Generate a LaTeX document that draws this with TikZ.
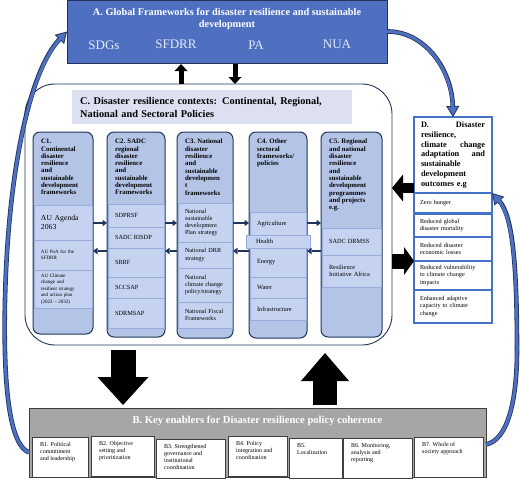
\documentclass[tikz,border=0pt]{standalone}
\usepackage{fontspec}
\setmainfont{Liberation Serif}
\usetikzlibrary{arrows.meta}
\definecolor{blueA}{RGB}{79,112,192}
\definecolor{navy}{RGB}{32,52,92}
\definecolor{colfill}{RGB}{180,196,230}
\definecolor{subfill}{RGB}{197,211,240}
\definecolor{subline}{RGB}{150,172,218}
\definecolor{ctitle}{RGB}{220,224,240}
\definecolor{greyB}{RGB}{166,166,166}
\definecolor{dblue}{RGB}{68,114,196}
\definecolor{lighttxt}{RGB}{228,234,250}
\newcommand{\fsz}[2]{\fontsize{#1}{#2}\selectfont}
\tikzset{
  subbox/.style={draw=subline, fill=subfill, line width=0.5pt, anchor=north west, inner xsep=7pt, inner ysep=0pt, outer sep=0pt, align=left},
  colbox/.style={draw=navy, line width=1pt, fill=colfill, rounded corners=7pt, anchor=north west, inner sep=0pt, outer sep=0pt},
  hdr/.style={anchor=north west, align=left, font=\bfseries\fsz{6.8}{7.3}, inner xsep=8pt, inner ysep=7pt},
  dbx/.style={draw=dblue, line width=1.5pt, fill=white, anchor=north west, inner xsep=6pt, inner ysep=0pt, outer sep=0pt, align=left},
  bsub/.style={draw=black!75, line width=0.8pt, fill=white, anchor=north west, inner sep=0pt, outer sep=0pt},
  btxt/.style={anchor=north west, align=left, font=\fsz{6}{7}, inner xsep=8pt, inner ysep=5pt},
  smallarr/.style={draw=navy, line width=1.8pt, -{Triangle[length=4.5pt,width=6.5pt,line width=0pt]}},
  blockarr/.style={draw=black},
  curvy/.style={draw=blueA, line width=3pt, shorten >=9pt,
    preaction={draw=navy, line width=4.6pt, shorten >=0pt, -{Triangle[length=11pt,width=13pt,fill=blueA,line width=0.8pt]}}}
}
\newcommand{\mysub}[7]{%
  \pgfmathsetmacro{\mytw}{#4-14}%
  \node[subbox, minimum width=#4pt, minimum height=#5pt, text width=\mytw pt, font=#6] (#1) at (#2,#3) {#7};}
\newcommand{\mydsub}[5]{%
  \node[dbx, minimum width=78pt, minimum height=#3pt, text width=66pt, font=\fsz{6.2}{7.4}] (#1) at (414,#2) {#5};}
\begin{document}
\begin{tikzpicture}[x=1pt,y=-1pt]
\useasboundingbox (0,0) rectangle (520,479);
% helper coordinates
\coordinate (xdn) at (123,0);
\coordinate (xup) at (325,0);
\coordinate (xa1) at (181,0);
\coordinate (xa2) at (235,0);
\coordinate (yR) at (0,223);
\coordinate (yL) at (0,251);
\coordinate (ydl) at (0,188);
\coordinate (ydr) at (0,261);

% A box
\node[draw=navy, fill=blueA, line width=1pt, anchor=north west, minimum width=320pt, minimum height=63pt, inner sep=0pt, outer sep=0pt] (abox) at (67,0) {};
\node[align=center, text=white, font=\bfseries\fsz{10.3}{12}] (atitle) at ([yshift=-19pt]abox.north) {A. Global Frameworks for disaster resilience and sustainable\\development};
\node[text=lighttxt, font=\fsz{13}{15}] (sdg) at (104,45) {SDGs};
\node[text=lighttxt, font=\fsz{13}{15}] (sfd) at (176,44) {SFDRR};
\node[text=lighttxt, font=\fsz{13}{15}] (pa) at (256,45) {PA};
\node[text=lighttxt, font=\fsz{13}{15}] (nua) at (337,44) {NUA};

% C big box
\node[draw=navy, line width=0.9pt, fill=white, rounded corners=30pt, anchor=north west, minimum width=367pt, minimum height=261pt, inner sep=0pt, outer sep=0pt] (cbox) at (25,84) {};
\node[fill=ctitle, anchor=north west, minimum height=34pt, text width=264pt, inner xsep=8pt, inner ysep=0pt, align=left, font=\bfseries\fsz{10.3}{13}] (ctitle) at (72,90) {C. Disaster resilience contexts: Continental, Regional,\\National and Sectoral Policies};

% columns
\node[colbox, minimum width=60pt, minimum height=202pt] (c1) at (33,132) {};
\node[colbox, minimum width=58pt, minimum height=205pt] (c2) at (107,132) {};
\node[colbox, minimum width=56pt, minimum height=206pt] (c3) at (177,132) {};
\node[colbox, minimum width=58pt, minimum height=206pt] (c4) at (249,132) {};
\node[colbox, minimum width=61pt, minimum height=205pt] (c5) at (321,132) {};

\node[hdr] (h1) at (c1.north west) {C1.\\Continental\\disaster\\resilience\\and\\sustainable\\development\\frameworks};
\node[hdr] (h2) at (c2.north west) {C2. SADC\\regional\\disaster\\resilience\\and\\sustainable\\development\\Frameworks};
\node[hdr] (h3) at (c3.north west) {C3. National\\disaster\\resilience\\and\\sustainable\\developmen\\t\\frameworks};
\node[hdr] (h4) at (c4.north west) {C4. Other\\sectoral\\frameworks/\\policies};
\node[hdr] (h5) at (c5.north west) {C5. Regional\\and national\\disaster\\resilience\\and\\sustainable\\development\\programmes\\and projects\\e.g.};

% C1 items
\mysub{c1a}{34}{205}{58}{35}{\fsz{7.7}{8.6}}{AU Agenda\\2063}
\mysub{c1b}{34}{240}{58}{30}{\fsz{5}{6.5}}{AU PoA for the\\SFDRR}
\mysub{c1c}{34}{270}{58}{38}{\fsz{5}{6.5}}{AU Climate\\change and\\resilient strategy\\and action plan\\(2022 -- 2032)}
% C2 items
\mysub{c2a}{108}{204}{56}{23}{\fsz{6.3}{7.4}}{SDPRSF}
\mysub{c2b}{108}{227}{56}{21}{\fsz{6.3}{7.4}}{SADC RISDP}
\mysub{c2c}{108}{248}{56}{29}{\fsz{6.3}{7.4}}{SRRF}
\mysub{c2d}{108}{277}{56}{21}{\fsz{6.3}{7.4}}{SCCSAP}
\mysub{c2e}{108}{298}{56}{30}{\fsz{6.3}{7.4}}{SDRMSAP}
% C3 items
\mysub{c3a}{178}{203}{54}{39}{\fsz{6.2}{7.3}}{National\\sustainable\\development\\Plan strategy}
\mysub{c3b}{178}{242}{54}{26}{\fsz{6.2}{7.3}}{National DRR\\strategy}
\mysub{c3c}{178}{268}{54}{34}{\fsz{6.2}{7.3}}{National\\climate change\\policy/strategy}
\mysub{c3d}{178}{302}{54}{26}{\fsz{6.2}{7.3}}{National Fiscal\\Frameworks}
% C4 items
\mysub{c4a}{250}{212}{56}{23}{\fsz{6.4}{7.4}}{Agriculture}
\mysub{c4b}{246}{235}{64}{13}{\fsz{6.4}{7.4}}{\hspace*{3pt}Health}
\mysub{c4c}{250}{248}{56}{29}{\fsz{6.4}{7.4}}{Energy}
\mysub{c4d}{250}{277}{56}{21}{\fsz{6.4}{7.4}}{Water}
\mysub{c4e}{250}{298}{56}{22}{\fsz{6.4}{7.4}}{Infrastructure}
% C5 items
\mysub{c5a}{322}{228}{59}{27}{\fsz{6.3}{7.4}}{SADC DRMSS}
\mysub{c5b}{322}{255}{59}{32}{\fsz{6.3}{7.4}}{Resilience\\Initiative Africa}

% arrows between columns
\draw[smallarr] (c1.east |- yR) -- (c2.west |- yR);
\draw[smallarr] (c2.west |- yL) -- (c1.east |- yL);
\draw[smallarr] (c2.east |- yR) -- (c3.west |- yR);
\draw[smallarr] (c3.west |- yL) -- (c2.east |- yL);
\draw[smallarr] (c3.east |- yR) -- (c4.west |- yR);
\draw[smallarr] (c4.west |- yL) -- (c3.east |- yL);
\draw[smallarr] (c4.east |- yR) -- (c5.west |- yR);
\draw[smallarr] (c5.west |- yL) -- (c4.east |- yL);

% D box
\node[dbx, minimum width=78pt, minimum height=76pt, text width=64pt, inner xsep=7pt, font=\bfseries\fsz{8.3}{9.7}] (dhead) at (414,117) {D.\hfill Disaster\\resilience,\\climate\hfill change\\adaptation\hfill and\\sustainable\\development\\outcomes e.g};
\mydsub{d1}{193}{20}{}{Zero hunger}
\mydsub{d2}{214}{23}{}{Reduced global\\disaster mortality}
\mydsub{d3}{237}{24}{}{Reduced disaster\\economic losses}
\mydsub{d4}{261}{29}{}{Reduced vulnerability\\to climate change\\impacts}
\mydsub{d5}{290}{33}{}{Enhanced adaptive\\capacity to climate\\change}

% B box
\node[draw=black!75, fill=greyB, line width=1pt, anchor=north west, minimum width=457pt, minimum height=69pt, inner sep=0pt, outer sep=0pt] (bbox) at (29,408) {};
\node[text=white, font=\bfseries\fsz{10.6}{12}] (btitle) at ([yshift=-13pt]bbox.north) {B. Key enablers for Disaster resilience policy coherence};
\node[bsub, minimum width=56pt, minimum height=40pt] (b1) at (32,437) {};
\node[bsub, minimum width=63pt, minimum height=40pt] (b2) at (91,436) {};
\node[bsub, minimum width=69pt, minimum height=39pt] (b3) at (156,439) {};
\node[bsub, minimum width=59pt, minimum height=40pt] (b4) at (228,436) {};
\node[bsub, minimum width=53pt, minimum height=40pt] (b5) at (289,438) {};
\node[bsub, minimum width=69pt, minimum height=40pt] (b6) at (343,438) {};
\node[bsub, minimum width=69pt, minimum height=40pt] (b7) at (414,437) {};
\node[btxt] (tb1) at (b1.north west) {B1. Political\\commitment\\and leadership};
\node[btxt] (tb2) at (b2.north west) {B2. Objective\\setting and\\prioritization};
\node[btxt] (tb3) at (b3.north west) {B3. Strengthened\\governance and\\institutional\\coordination};
\node[btxt] (tb4) at (b4.north west) {B4. Policy\\integration and\\coordination};
\node[btxt] (tb5) at (b5.north west) {B5.\\Localization};
\node[btxt] (tb6) at (b6.north west) {B6. Monitoring,\\analysis and\\reporting};
\node[btxt] (tb7) at (b7.north west) {B7. Whole of\\society approach};

% A <-> C small arrows
\draw[blockarr, line width=5pt, -{Triangle[length=7pt,width=13pt,line width=0pt]}, shorten >=1pt] (cbox.north -| xa1) -- (abox.south -| xa1);
\draw[blockarr, line width=5pt, -{Triangle[length=7pt,width=13pt,line width=0pt]}, shorten <=1pt] (abox.south -| xa2) -- (cbox.north -| xa2);

% C <-> B block arrows
\draw[blockarr, line width=25pt, -{Triangle[length=28pt,width=51pt,line width=0pt]}, shorten <=5pt, shorten >=3pt] (cbox.south -| xdn) -- (bbox.north -| xdn);
\draw[blockarr, line width=24pt, -{Triangle[length=28pt,width=48pt,line width=0pt]}, shorten <=3pt, shorten >=8pt] (bbox.north -| xup) -- (cbox.south -| xup);

% C <-> D block arrows
\draw[blockarr, line width=10pt, -{Triangle[length=11pt,width=27pt,line width=0pt]}] (dhead.west |- ydl) -- (cbox.east |- ydl);
\draw[blockarr, line width=15pt, -{Triangle[length=10pt,width=28pt,line width=0pt]}] (cbox.east |- ydr) -- (d4.west |- ydr);

% curved arrows
\draw[curvy] ([yshift=-10pt]bbox.west) .. controls (10,445) and (3,390) .. (5,300) .. controls (8,170) and (30,70) .. (abox.west);
\draw[curvy] (abox.east) .. controls (425,31) and (452,70) .. (dhead.north);
\draw[curvy] ([yshift=-2pt]bbox.east) .. controls (508,440) and (517,400) .. (517,350) .. controls (517,260) and (512,215) .. (d1.north east);
\end{tikzpicture}
\end{document}
